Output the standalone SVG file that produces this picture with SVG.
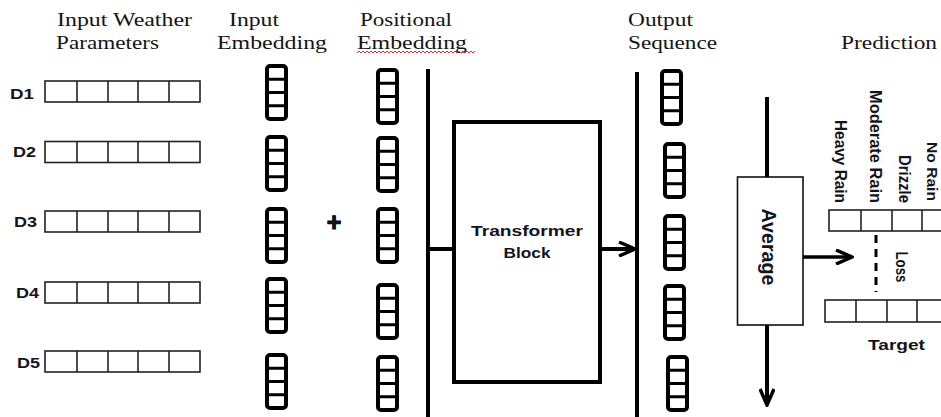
<svg xmlns="http://www.w3.org/2000/svg" width="941" height="417" viewBox="0 0 941 417">
<defs>
<style>
.title{font-family:"Liberation Serif",serif;font-size:19.5px;fill:#141414}
.lbl{font-family:"Liberation Sans",Arial,sans-serif;font-weight:bold;fill:#14141e}
.row{fill:#fff;stroke:#222;stroke-width:1.6}
.cell{stroke:#222;stroke-width:1.6}
.col{fill:#fff;stroke:#000;stroke-width:4;rx:3;ry:3}
.div{stroke:#000;stroke-width:3}
.thick{stroke:#000;stroke-width:4;fill:none}
</style>
<marker id="chev" markerUnits="userSpaceOnUse" viewBox="0 0 20 16" refX="18" refY="8" markerWidth="20" markerHeight="16" orient="auto">
<path d="M2,1 L18,8 L2,15" fill="none" stroke="#000" stroke-width="3.5"/>
</marker>
<g id="cell4">
<rect class="col" x="0" y="0" width="19" height="53"/>
<line class="div" x1="0" y1="13.25" x2="19" y2="13.25"/>
<line class="div" x1="0" y1="26.5" x2="19" y2="26.5"/>
<line class="div" x1="0" y1="39.75" x2="19" y2="39.75"/>
</g>
<g id="wrow">
<rect class="row" x="0" y="0" width="155" height="21"/>
<line class="cell" x1="32" y1="0" x2="32" y2="21"/>
<line class="cell" x1="63" y1="0" x2="63" y2="21"/>
<line class="cell" x1="93" y1="0" x2="93" y2="21"/>
<line class="cell" x1="124" y1="0" x2="124" y2="21"/>
</g>
</defs>
<rect width="941" height="417" fill="#fff"/>

<g id="titles">
<text class="title" x="57" y="26" textLength="135" lengthAdjust="spacingAndGlyphs">Input Weather</text>
<text class="title" x="56" y="49" textLength="103" lengthAdjust="spacingAndGlyphs">Parameters</text>
<text class="title" x="229" y="26" textLength="50" lengthAdjust="spacingAndGlyphs">Input</text>
<text class="title" x="217" y="49" textLength="110" lengthAdjust="spacingAndGlyphs">Embedding</text>
<text class="title" x="360" y="26" textLength="92" lengthAdjust="spacingAndGlyphs">Positional</text>
<text class="title" x="357" y="49" textLength="110" lengthAdjust="spacingAndGlyphs">Embedding</text>
<path d="M357,53 l2,-2 l2,2 l2,-2 l2,2 l2,-2 l2,2 l2,-2 l2,2 l2,-2 l2,2 l2,-2 l2,2 l2,-2 l2,2 l2,-2 l2,2 l2,-2 l2,2 l2,-2 l2,2 l2,-2 l2,2 l2,-2 l2,2 l2,-2 l2,2 l2,-2 l2,2 l2,-2 l2,2 l2,-2 l2,2 l2,-2 l2,2 l2,-2 l2,2 l2,-2 l2,2 l2,-2 l2,2 l2,-2 l2,2 l2,-2 l2,2 l2,-2 l2,2 l2,-2 l2,2 l2,-2 l2,2 l2,-2 l2,2 l2,-2 l2,2 l2,-2 l2,2 l2,-2 l2,2 l2,-2" fill="none" stroke="#e03030" stroke-width="1"/>
<text class="title" x="628" y="26" textLength="65" lengthAdjust="spacingAndGlyphs">Output</text>
<text class="title" x="628" y="49" textLength="89" lengthAdjust="spacingAndGlyphs">Sequence</text>
<text class="title" x="841" y="49" textLength="96" lengthAdjust="spacingAndGlyphs">Prediction</text>
</g>

<g id="input-weather">
<text class="lbl" font-size="14" x="10" y="99" textLength="24" lengthAdjust="spacingAndGlyphs">D1</text>
<use href="#wrow" x="45" y="81"/>
<text class="lbl" font-size="14" x="13" y="157" textLength="23" lengthAdjust="spacingAndGlyphs">D2</text>
<use href="#wrow" x="45" y="141.5"/>
<text class="lbl" font-size="14" x="14" y="227" textLength="23" lengthAdjust="spacingAndGlyphs">D3</text>
<use href="#wrow" x="45" y="211"/>
<text class="lbl" font-size="14" x="16" y="298" textLength="23" lengthAdjust="spacingAndGlyphs">D4</text>
<use href="#wrow" x="45" y="282"/>
<text class="lbl" font-size="14" x="17" y="368" textLength="23" lengthAdjust="spacingAndGlyphs">D5</text>
<use href="#wrow" x="45" y="351"/>
</g>

<g id="input-embedding">
<use href="#cell4" x="267" y="66"/>
<use href="#cell4" x="267" y="137"/>
<use href="#cell4" x="267" y="209"/>
<use href="#cell4" x="267" y="279"/>
<use href="#cell4" x="267" y="355"/>
</g>

<g id="plus">
<text class="lbl" font-size="25" x="334" y="230.5" text-anchor="middle" stroke="#000" stroke-width="1">+</text>
</g>

<g id="positional-embedding">
<use href="#cell4" x="378" y="70"/>
<use href="#cell4" x="378" y="138"/>
<use href="#cell4" x="378" y="209"/>
<use href="#cell4" x="378" y="285"/>
<use href="#cell4" x="378" y="357"/>
</g>

<g id="transformer-block">
<rect class="thick" x="454" y="122" width="146" height="260" fill="#fff"/>
<text class="lbl" font-size="15.5" x="527" y="236" text-anchor="middle" textLength="112" lengthAdjust="spacingAndGlyphs">Transformer</text>
<text class="lbl" font-size="15.5" x="527" y="258" text-anchor="middle" textLength="47" lengthAdjust="spacingAndGlyphs">Block</text>
</g>

<g id="output-sequence">
<use href="#cell4" x="662" y="71"/>
<use href="#cell4" x="665" y="144"/>
<use href="#cell4" x="665" y="216"/>
<use href="#cell4" x="665" y="286"/>
<use href="#cell4" x="668" y="357"/>
</g>

<g id="average">
<rect x="737.5" y="177" width="65.5" height="148" fill="#fff" stroke="#111" stroke-width="1.6"/>
<text class="lbl" font-size="20" transform="translate(762,247) rotate(90)" text-anchor="middle" textLength="77" lengthAdjust="spacingAndGlyphs">Average</text>
</g>

<g id="prediction">
<rect class="row" x="829" y="210" width="130" height="21"/>
<line class="cell" x1="861" y1="210" x2="861" y2="231"/>
<line class="cell" x1="892" y1="210" x2="892" y2="231"/>
<line class="cell" x1="922" y1="210" x2="922" y2="231"/>
<text class="lbl" font-size="16" transform="translate(835,203) rotate(90)" text-anchor="end" textLength="83" lengthAdjust="spacingAndGlyphs">Heavy Rain</text>
<text class="lbl" font-size="16" transform="translate(870,203) rotate(90)" text-anchor="end" textLength="113" lengthAdjust="spacingAndGlyphs">Moderate Rain</text>
<text class="lbl" font-size="16" transform="translate(899,203) rotate(90)" text-anchor="end" textLength="48" lengthAdjust="spacingAndGlyphs">Drizzle</text>
<text class="lbl" font-size="14.5" transform="translate(927,201) rotate(90)" text-anchor="end" textLength="59" lengthAdjust="spacingAndGlyphs">No Rain</text>
</g>

<g id="target">
<rect class="row" x="825" y="300" width="130" height="22"/>
<line class="cell" x1="856" y1="300" x2="856" y2="322"/>
<line class="cell" x1="887" y1="300" x2="887" y2="322"/>
<line class="cell" x1="917" y1="300" x2="917" y2="322"/>
<text class="lbl" font-size="15.5" x="868" y="350" textLength="57" lengthAdjust="spacingAndGlyphs">Target</text>
</g>

<g id="loss">
<text class="lbl" font-size="16.5" transform="translate(896,267) rotate(90)" text-anchor="middle" textLength="31" lengthAdjust="spacingAndGlyphs">Loss</text>
</g>

<g id="connectors">
<line class="thick" x1="428" y1="69" x2="428" y2="417"/>
<line class="thick" x1="637" y1="72" x2="637" y2="417"/>
<line class="thick" x1="428" y1="249" x2="454" y2="249"/>
<line class="thick" x1="600" y1="249" x2="635" y2="249" marker-end="url(#chev)"/>
<line class="thick" x1="767" y1="97" x2="767" y2="177"/>
<line class="thick" x1="767" y1="325" x2="767" y2="405" marker-end="url(#chev)"/>
<line x1="803" y1="257" x2="852" y2="257" stroke="#000" stroke-width="3.5" marker-end="url(#chev)"/>
<line x1="876" y1="235" x2="876" y2="292" stroke="#000" stroke-width="3" stroke-dasharray="8 6"/>
</g>
</svg>
